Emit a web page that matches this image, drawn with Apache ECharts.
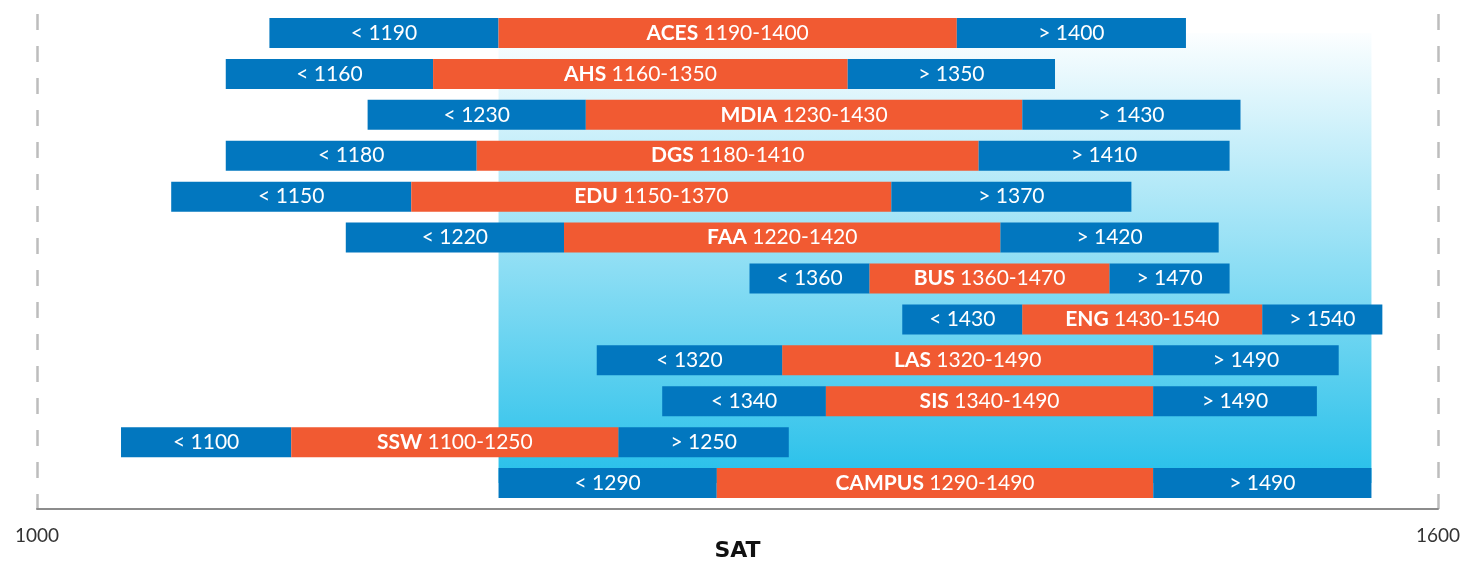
<!DOCTYPE html>
<html>
<head>
<meta charset="utf-8">
<title>SAT ranges</title>
<script src="https://cdn.jsdelivr.net/npm/echarts@6/dist/echarts.min.js"></script>
<style>
	html, body { margin: 0; padding: 0; background: #fff; }
	#main { width: 1463px; height: 563px; }
</style>
</head>
<body>
<div id="main"></div>
<script>
// 学院名称，从上到下
var names = ['ACES', 'AHS', 'MDIA', 'DGS', 'EDU', 'FAA', 'BUS', 'ENG', 'LAS', 'SIS', 'SSW', 'CAMPUS'];
// 标签上的分数段
var lowScore = [1190, 1160, 1230, 1180, 1150, 1220, 1360, 1430, 1320, 1340, 1100, 1290];
var highScore = [1400, 1350, 1430, 1410, 1370, 1420, 1470, 1540, 1490, 1490, 1250, 1490];
// 各段在轴上的位置（从图上读出，SSW 图上略微偏左）
var barStart = [1085, 1065, 1130, 1065, 1040, 1120, 1305, 1375, 1235, 1265, 1017, 1190];
var midStart = [1190, 1160, 1230, 1180, 1150, 1220, 1360, 1430, 1320, 1340, 1095, 1290];
var midEnd = [1400, 1350, 1430, 1410, 1370, 1420, 1470, 1540, 1490, 1490, 1245, 1490];
var barEnd = [1505, 1445, 1530, 1525, 1480, 1520, 1525, 1595, 1575, 1565, 1323, 1590];
// 底部坐标轴刻度
var tickValues = [1000, 1600];
// 背景渐变区域（全校范围）
var shadeRange = [1190, 1590];

var BLUE = '#0277bf';
var ORANGE = '#f15a32';
var FONT = 'Lato';

var myChart = echarts.init(document.getElementById('main'));

var base = [], leftPart = [], midPart = [], rightPart = [];
for (var i = 0; i < names.length; i++) {
	base.push(barStart[i]);
	leftPart.push(midStart[i] - barStart[i]);
	midPart.push(midEnd[i] - midStart[i]);
	rightPart.push(barEnd[i] - midEnd[i]);
}

var labelStyle = {
	show: true,
	position: 'inside',
	color: '#fff',
	fontFamily: FONT,
	fontSize: 21
};

option = {
	animation: false,
	grid: [
		{ left: 37, right: 25, top: 12.5, bottom: 59.5, outerBoundsMode: 'none' }, //条形图
		{ left: 37, right: 25, top: 14, bottom: 54, outerBoundsMode: 'none' } //坐标轴和虚线
	],
	xAxis: [
		{
			gridIndex: 0,
			type: 'value',
			min: 978.5,
			max: 1620.5,
			show: false
		},
		{
			gridIndex: 1,
			type: 'value',
			min: tickValues[0],
			max: tickValues[1],
			interval: tickValues[1] - tickValues[0],
			name: 'SAT',
			nameLocation: 'middle',
			nameGap: 31,
			nameMoveOverlap: false,
			nameTextStyle: {
				fontFamily: 'DejaVu Sans',
				fontWeight: 'bold',
				fontSize: 22,
				color: '#111'
			},
			axisLine: { show: true, onZero: false, lineStyle: { color: '#8c8c8c', width: 2 } },
			axisTick: { show: false },
			axisLabel: {
				margin: 17,
				fontFamily: FONT,
				fontSize: 19,
				color: '#333',
				formatter: function(v) {
					return String(v);
				}
			},
			splitLine: {
				show: true,
				lineStyle: { color: '#bdbdbd', width: 2.5, type: [16, 16] }
			}
		}
	],
	yAxis: [
		{
			gridIndex: 0,
			type: 'category',
			data: names,
			inverse: true,
			show: false
		},
		{
			gridIndex: 1,
			type: 'value',
			show: false
		}
	],
	series: [
		{ //只用来画背景渐变
			name: 'shade',
			type: 'line',
			z: 0,
			silent: true,
			data: [],
			markArea: {
				silent: true,
				itemStyle: {
					color: {
						type: 'linear', x: 0, y: 0, x2: 0, y2: 1,
						colorStops: [
							{ offset: 0, color: '#fcfeff' },
							{ offset: 1, color: '#26c0ea' }
						]
					}
				},
				data: [[
					{ xAxis: shadeRange[0], yAxis: names[0] },
					{ xAxis: shadeRange[1], yAxis: names[names.length - 1] }
				]]
			}
		},
		{
			name: 'base',
			type: 'bar',
			stack: 'sat',
			barWidth: 30,
			z: 1,
			silent: true,
			itemStyle: { color: 'rgba(0,0,0,0)' },
			data: base
		},
		{
			name: 'low',
			type: 'bar',
			stack: 'sat',
			barWidth: 30,
			z: 2,
			itemStyle: { color: BLUE },
			label: Object.assign({}, labelStyle, {
				formatter: function(p) {
					return '< ' + lowScore[p.dataIndex];
				}
			}),
			data: leftPart
		},
		{
			name: 'mid',
			type: 'bar',
			stack: 'sat',
			barWidth: 30,
			z: 2,
			itemStyle: { color: ORANGE },
			label: Object.assign({}, labelStyle, {
				formatter: function(p) {
					return '{b|' + names[p.dataIndex] + '} ' + lowScore[p.dataIndex] + '-' + highScore[p.dataIndex];
				},
				rich: {
					b: { color: '#fff', fontFamily: FONT, fontSize: 21, fontWeight: 'bold' }
				}
			}),
			data: midPart
		},
		{
			name: 'high',
			type: 'bar',
			stack: 'sat',
			barWidth: 30,
			z: 2,
			itemStyle: { color: BLUE },
			label: Object.assign({}, labelStyle, {
				formatter: function(p) {
					return '> ' + highScore[p.dataIndex];
				}
			}),
			data: rightPart
		}
	]
};

myChart.setOption(option);
</script>
</body>
</html>
